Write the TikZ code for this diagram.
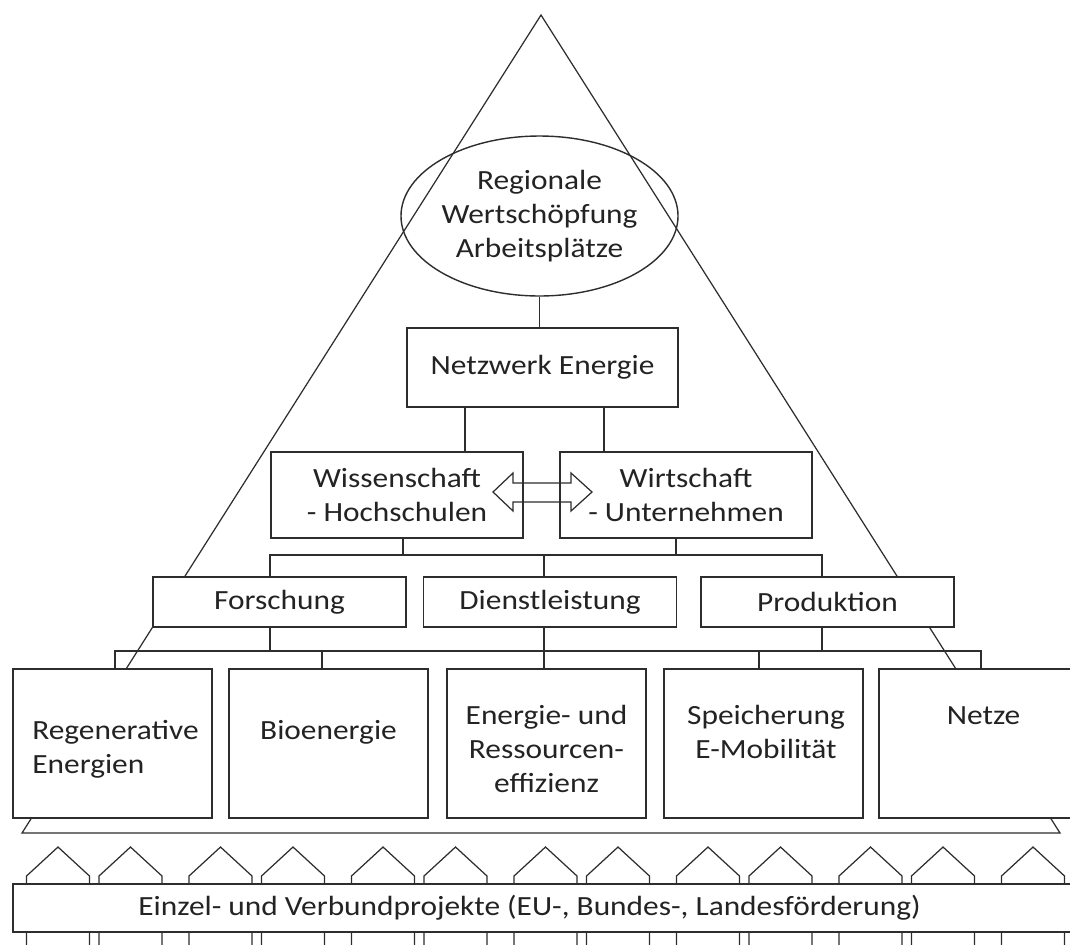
\documentclass[tikz,border=0pt]{standalone}
\usepackage{fontspec}
\setmainfont{Carlito}[FakeStretch=1.13]
\usepackage{tikz}
\usetikzlibrary{shapes,positioning}
\usepackage{xcolor}
\definecolor{pyline}{RGB}{45,45,45}
\definecolor{pytext}{RGB}{35,35,35}
\tikzstyle{pyramid} = [draw=pyline, line width=0.7pt, line join=miter]
\tikzstyle{uparrow} = [draw=pyline, line width=0.7pt]
\tikzstyle{topbox} = [rectangle, draw=pyline, fill=white, line width=0.9pt, inner sep=0pt, align=center, text=pytext]
\tikzstyle{fieldbox} = [rectangle, draw=pyline, fill=white, line width=0.9pt, inner sep=0pt, minimum width=3.98cm, minimum height=2.98cm]
\tikzstyle{fieldtext} = [inner sep=0pt, text=pytext]
\tikzstyle{conn} = [draw=pyline, line width=0.8pt]

\begin{document}
\begin{tikzpicture}[x=0.02cm, y=-0.02cm, font=\fontsize{15.8}{19.2}\selectfont]
\clip (0,0) rectangle (1070,944);

% Pyramid
\draw[pyramid] (22,833) -- (541,15) -- (1060,833) -- cycle;

% Funding arrows through the projects bar
\draw[uparrow] (26.5,960) -- (26.5,876) -- (58,847) -- (89.5,876) -- (89.5,960);
\draw[uparrow] (99,960) -- (99,876) -- (130.5,847) -- (162,876) -- (162,960);
\draw[uparrow] (189,960) -- (189,876) -- (220.5,847) -- (252,876) -- (252,960);
\draw[uparrow] (261.5,960) -- (261.5,876) -- (293,847) -- (324.5,876) -- (324.5,960);
\draw[uparrow] (351.5,960) -- (351.5,876) -- (383,847) -- (414.5,876) -- (414.5,960);
\draw[uparrow] (424,960) -- (424,876) -- (455.5,847) -- (487,876) -- (487,960);
\draw[uparrow] (514,960) -- (514,876) -- (545.5,847) -- (577,876) -- (577,960);
\draw[uparrow] (586.5,960) -- (586.5,876) -- (618,847) -- (649.5,876) -- (649.5,960);
\draw[uparrow] (676.5,960) -- (676.5,876) -- (708,847) -- (739.5,876) -- (739.5,960);
\draw[uparrow] (749,960) -- (749,876) -- (780.5,847) -- (812,876) -- (812,960);
\draw[uparrow] (839,960) -- (839,876) -- (870.5,847) -- (902,876) -- (902,960);
\draw[uparrow] (911.5,960) -- (911.5,876) -- (943,847) -- (974.5,876) -- (974.5,960);
\draw[uparrow] (1001.5,960) -- (1001.5,876) -- (1033,847) -- (1064.5,876) -- (1064.5,960);
\draw[uparrow] (1074,960) -- (1074,876) -- (1105.5,847) -- (1137,876) -- (1137,960);

\node[topbox, minimum width=21.34cm, minimum height=0.96cm] (proj) at (546.5,908) {\hspace*{-0.68cm}Einzel- und Verbundprojekte (EU-, Bundes-, Landesförderung)};

% Top of the pyramid
\node[ellipse, draw=pyline, line width=0.8pt, inner sep=0pt, minimum width=4.74cm, minimum height=3.2cm, align=center, text=pytext] (reg) at (539.5,216) {Regionale\\Wertschöpfung\\Arbeitsplätze};
\node[topbox, minimum width=5.42cm, minimum height=1.58cm] (netz) at (542.5,367.5) {Netzwerk Energie};
\node[topbox, minimum width=5.04cm, minimum height=1.72cm] (wiss) at (397,495) {Wissenschaft\\- Hochschulen};
\node[topbox, minimum width=5.04cm, minimum height=1.72cm] (wirt) at (686,495) {Wirtschaft\\- Unternehmen};

% Middle row
\node[topbox, minimum width=5.06cm, minimum height=1.0cm] (fors) at (279.5,602) {Forschung};
\node[topbox, minimum width=5.06cm, minimum height=1.0cm] (dien) at (550,602) {Dienstleistung};
\node[topbox, minimum width=5.06cm, minimum height=1.0cm] (prod) at (827.5,602) {Produktion};

% Fields
\node[fieldbox] (regen) at (112.5,743.5) {};
\node[fieldbox] (bio) at (328.5,743.5) {};
\node[fieldbox] (effiz) at (546.5,743.5) {};
\node[fieldbox] (speich) at (763.5,743.5) {};
\node[fieldbox] (netze) at (978.5,743.5) {};
\node[fieldtext, anchor=base west, align=left] (regentxt) at (32,773) {Regenerative\\Energien};
\node[fieldtext, anchor=base] (biotxt) at (328.5,739) {Bioenergie};
\node[fieldtext, anchor=base, align=center] (effiztxt) at (546.5,792) {Energie- und\\Ressourcen-\\effizienz};
\node[fieldtext, anchor=base, align=center] (speichtxt) at (766,758) {Speicherung\\E-Mobilität};
\node[fieldtext, anchor=base] (netzetxt) at (983.5,724) {Netze};

% Connectors
\coordinate (nw) at (465,0);
\coordinate (ne) at (604,0);
\coordinate (wd) at (403,555);
\coordinate (xd) at (676,555);
\coordinate (upL) at (270,555);
\coordinate (upM) at (544,555);
\coordinate (upR) at (822,555);
\coordinate (lowL) at (115,651);
\coordinate (lowB) at (322,651);
\coordinate (lowM) at (544,651);
\coordinate (lowS) at (759,651);
\coordinate (lowR) at (981,651);
\coordinate (fd) at (270,651);
\coordinate (pd) at (822,651);

\draw[conn] (reg.south) -- (reg.south |- netz.north);
\draw[conn] (nw |- netz.south) -- (nw |- wiss.north);
\draw[conn] (ne |- netz.south) -- (ne |- wirt.north);
\draw[conn] (wd |- wiss.south) -- (wd);
\draw[conn] (xd |- wirt.south) -- (xd);
\draw[conn] (upL |- fors.north) -- (upL) -- (upR) -- (upR |- prod.north);
\draw[conn] (upM) -- (upM |- dien.north);
\draw[conn] (fd |- fors.south) -- (fd);
\draw[conn] (pd |- prod.south) -- (pd);
\draw[conn] (lowM |- dien.south) -- (lowM |- effiz.north);
\draw[conn] (lowL |- regen.north) -- (lowL) -- (lowR) -- (lowR |- netze.north);
\draw[conn] (lowB) -- (lowB |- bio.north);
\draw[conn] (lowS) -- (lowS |- speich.north);

% Exchange arrow
\draw[conn, line width=0.7pt] (493,492) -- (513,473) -- (513,483) -- (571,483) -- (571,473) -- (592,492) -- (571,511) -- (571,502) -- (513,502) -- (513,511) -- cycle;
\end{tikzpicture}
\end{document}
